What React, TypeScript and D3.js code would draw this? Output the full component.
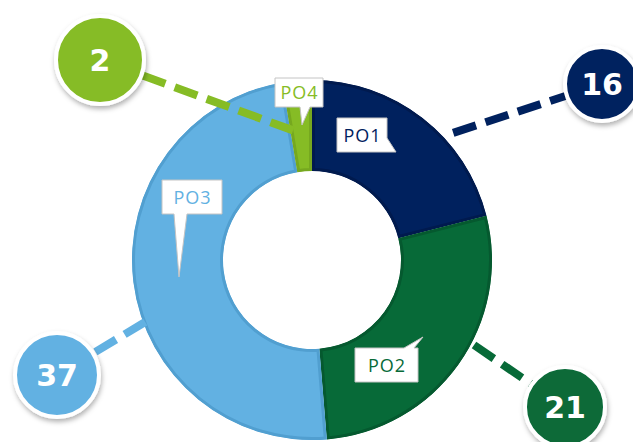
import React, { useEffect, useRef } from "react";
import * as d3 from "d3";

const categories = ["PO1", "PO2", "PO3", "PO4"];
const values = [16, 21, 37, 2];
const colors = ["#00215e", "#076a38", "#62b1e2", "#86bc25"];
const edgeColors = ["#001a4e", "#05592f", "#519fd0", "#76a81f"];

// callout circles (the number bubbles) and where their dashed lines leave the ring
const callouts = [
  { cx: 602, cy: 84, r: 37, angle: 48, dist: 190 },
  { cx: 565, cy: 407, r: 40, angle: 117.7, dist: 183 },
  { cx: 57, cy: 375, r: 42, angle: 249.6, dist: 178 },
  { cx: 100, cy: 60, r: 44, angle: -8.3, dist: 131 },
];

// speech-bubble label boxes
const labelBoxes = [
  { x: 337, y: 118, w: 50, h: 34, edge: "right", t0: 138, t1: 152, tip: [396, 152] },
  { x: 355, y: 348, w: 63, h: 34, edge: "top", t0: 404, t1: 414, tip: [423, 337] },
  { x: 162, y: 180, w: 60, h: 34, edge: "bottom", t0: 174, t1: 187, tip: [179, 277] },
  { x: 275, y: 78, w: 48, h: 29, edge: "bottom", t0: 300, t1: 310, tip: [302, 125] },
];

const bubblePath = (b) => {
  const { x, y, w, h, t0, t1, tip } = b;
  if (b.edge === "bottom")
    return `M${x},${y}H${x + w}V${y + h}H${t1}L${tip[0]},${tip[1]}L${t0},${y + h}H${x}Z`;
  if (b.edge === "top")
    return `M${x},${y}H${t0}L${tip[0]},${tip[1]}L${t1},${y}H${x + w}V${y + h}H${x}Z`;
  return `M${x},${y}H${x + w}V${t0}L${tip[0]},${tip[1]}L${x + w},${t1}V${y + h}H${x}Z`;
};

const App = () => {
  const ref = useRef(null);

  useEffect(() => {
    const width = 633;
    const height = 442;
    const cx = 312;
    const cy = 260;
    const outer = 180;
    const inner = 89;

    const svg = d3.select(ref.current);
    svg.selectAll("*").remove();
    svg.attr("width", width).attr("height", height);

    const defs = svg.append("defs");
    defs.append("filter")
      .attr("id", "shadow")
      .attr("x", "-30%").attr("y", "-30%").attr("width", "160%").attr("height", "160%")
      .append("feDropShadow")
      .attr("dx", 1).attr("dy", 3).attr("stdDeviation", 2.5)
      .attr("flood-color", "#000").attr("flood-opacity", 0.3);

    const pie = d3.pie().sort(null).value(d => d)(values);
    const arc = d3.arc().innerRadius(inner).outerRadius(outer);

    const g = svg.append("g").attr("transform", `translate(${cx},${cy})`);

    pie.forEach((p, i) => {
      defs.append("clipPath").attr("id", `clip${i}`)
        .append("path").attr("d", arc(p));
    });

    g.selectAll("path.slice")
      .data(pie)
      .enter()
      .append("path")
      .attr("class", "slice")
      .attr("d", arc)
      .attr("fill", (d, i) => colors[i])
      .attr("stroke", (d, i) => edgeColors[i])
      .attr("stroke-width", 6)
      .attr("clip-path", (d, i) => `url(#clip${i})`);

    const rad = a => (a * Math.PI) / 180;

    // dashed leader lines
    callouts.forEach((c, i) => {
      const x1 = cx + c.dist * Math.sin(rad(c.angle));
      const y1 = cy - c.dist * Math.cos(rad(c.angle));
      const dx = x1 - c.cx;
      const dy = y1 - c.cy;
      const len = Math.hypot(dx, dy);
      svg.append("line")
        .attr("x1", x1).attr("y1", y1)
        .attr("x2", c.cx + (dx / len) * c.r)
        .attr("y2", c.cy + (dy / len) * c.r)
        .attr("stroke", colors[i])
        .attr("stroke-width", 8)
        .attr("stroke-dasharray", "24 10");
    });

    // label boxes
    labelBoxes.forEach((b, i) => {
      svg.append("path")
        .attr("d", bubblePath(b))
        .attr("fill", "#fff")
        .attr("stroke", "#c4c4c4")
        .attr("stroke-width", 1);
      svg.append("text")
        .attr("x", b.x + b.w / 2 + 0.5)
        .attr("y", b.y + b.h / 2 + 6.5)
        .attr("text-anchor", "middle")
        .attr("font-family", "'Open Sans', sans-serif")
        .attr("font-size", 18)
        .attr("letter-spacing", 1)
        .attr("fill", colors[i])
        .text(categories[i]);
    });

    // number bubbles
    callouts.forEach((c, i) => {
      svg.append("circle")
        .attr("cx", c.cx).attr("cy", c.cy).attr("r", c.r)
        .attr("fill", colors[i])
        .attr("stroke", "#fff")
        .attr("stroke-width", 4)
        .attr("filter", "url(#shadow)");
      svg.append("text")
        .attr("x", c.cx)
        .attr("y", c.cy + 11)
        .attr("text-anchor", "middle")
        .attr("font-family", "'DejaVu Sans', sans-serif")
        .attr("font-weight", "bold")
        .attr("font-size", 30)
        .attr("fill", "#fff")
        .text(values[i]);
    });
  }, []);

  return (
    <div style={{ position: "absolute", left: 0, top: 0 }}>
      <svg ref={ref} style={{ display: "block" }} />
    </div>
  );
};

export default App;
